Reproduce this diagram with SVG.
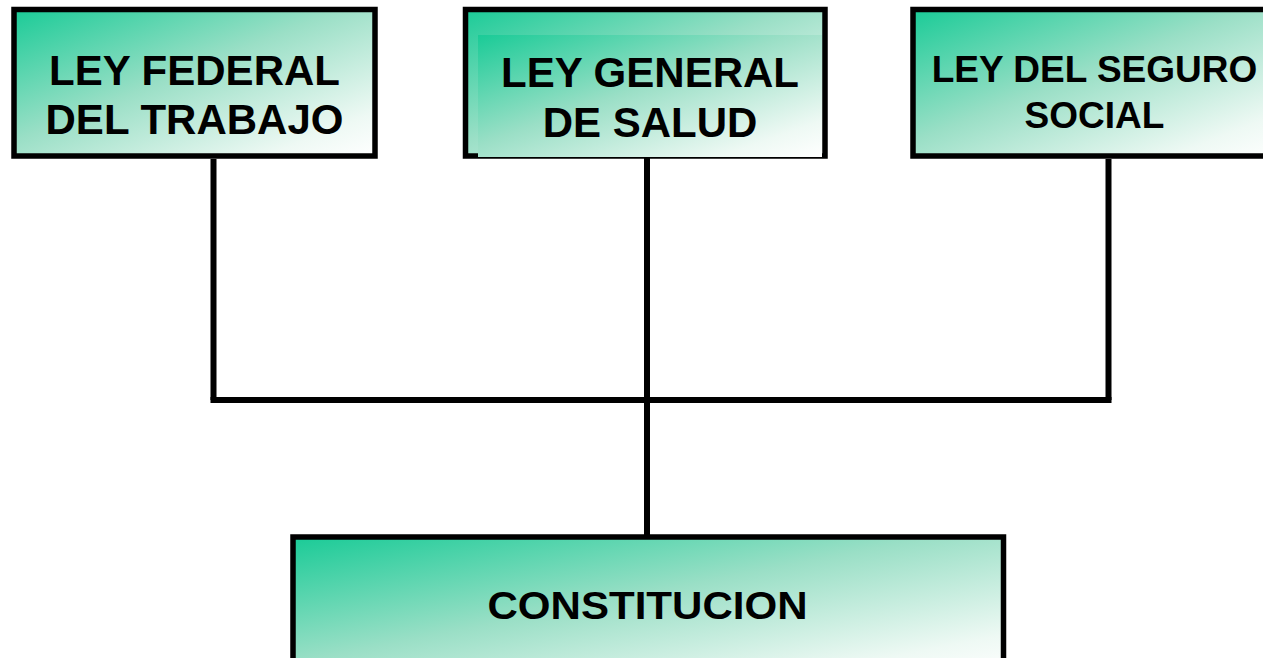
<svg xmlns="http://www.w3.org/2000/svg" width="1263" height="658" viewBox="0 0 1263 658">
<defs>
<linearGradient id="g" x1="0" y1="0" x2="1" y2="1">
<stop offset="0" stop-color="#1ACB97"/>
<stop offset="0.45" stop-color="#9ADFC6"/>
<stop offset="0.85" stop-color="#EEF9F4"/>
<stop offset="1" stop-color="#FFFFFF"/>
</linearGradient>
<style>
.box{fill:url(#g);stroke:#000;stroke-width:5.5}
.inner{fill:url(#g);stroke:none}
.lbl{font-family:"Liberation Sans",Arial,sans-serif;font-weight:bold;fill:#000;text-anchor:middle}
.conn{stroke:#000;stroke-width:6;fill:none;stroke-linecap:butt}
</style>
</defs>
<rect width="1263" height="658" fill="#fff"/>
<g id="connectors">
<path class="conn" d="M213.5 159 V400"/>
<path class="conn" d="M1108.5 159 V400"/>
<path class="conn" d="M210.5 400 H1111.5"/>
<path class="conn" d="M647 155 V535"/>
</g>
<g id="node-ley-federal">
<rect class="box" x="14" y="9.5" width="361" height="146.5"/>
<text class="lbl" x="194.5" y="85" font-size="42">LEY FEDERAL</text>
<text class="lbl" x="194.5" y="134" font-size="42">DEL TRABAJO</text>
</g>
<g id="node-ley-general">
<rect class="box" x="465.5" y="9.5" width="359.5" height="146.5"/>
<rect class="inner" x="478" y="35" width="344" height="122"/>
<text class="lbl" x="650" y="87" font-size="42">LEY GENERAL</text>
<text class="lbl" x="650" y="137" font-size="42">DE SALUD</text>
</g>
<g id="node-ley-seguro">
<rect class="box" x="913" y="9.5" width="370" height="146.5"/>
<text class="lbl" x="1094.5" y="82" font-size="37">LEY DEL SEGURO</text>
<text class="lbl" x="1094.5" y="128" font-size="37">SOCIAL</text>
</g>
<g id="node-constitucion">
<rect class="box" x="293" y="537" width="710.5" height="140"/>
<text class="lbl" x="647.5" y="619" font-size="39" textLength="320" lengthAdjust="spacingAndGlyphs">CONSTITUCION</text>
</g>
</svg>
